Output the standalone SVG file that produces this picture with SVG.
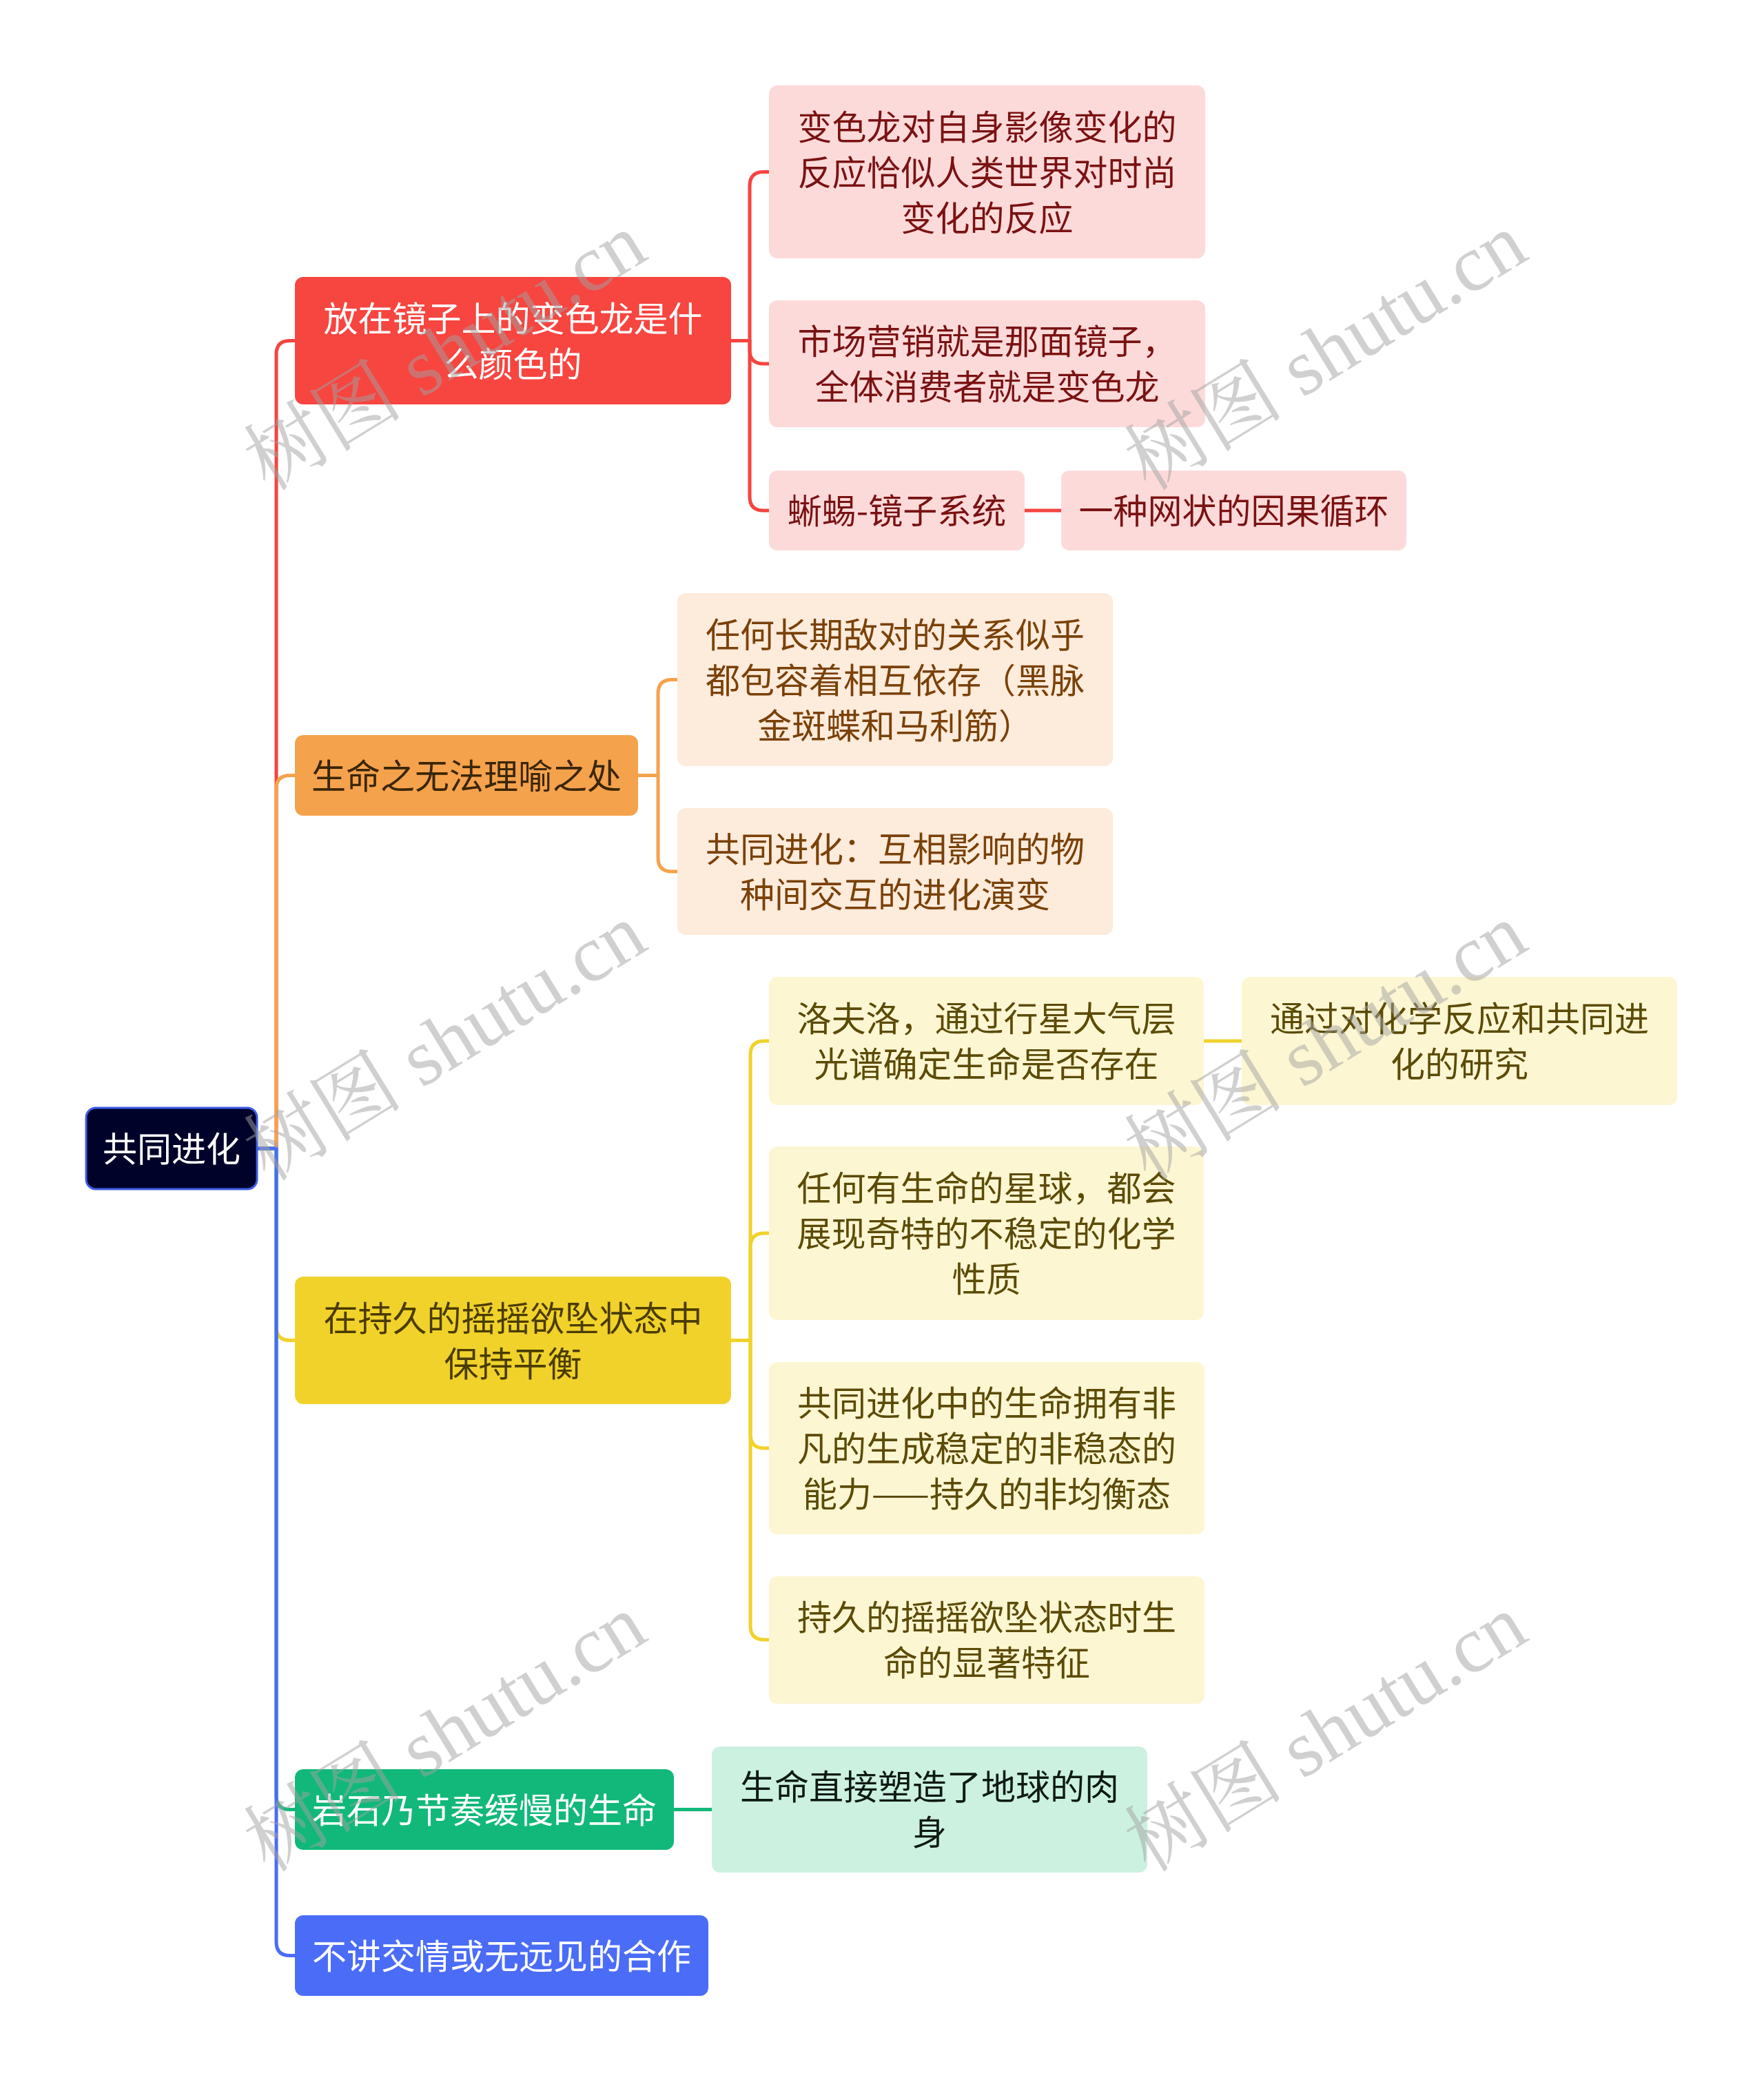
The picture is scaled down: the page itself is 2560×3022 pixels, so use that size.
<svg xmlns="http://www.w3.org/2000/svg" width="2560" height="3022" viewBox="0 0 2560 3022">
<style>
text{font-family:"Noto Sans CJK SC","Noto Sans",sans-serif;font-size:50px;text-anchor:middle}
.wm{font-family:"Liberation Serif","Noto Serif CJK SC","Noto Sans CJK SC",serif;font-size:116px;fill:#a2a2a2;fill-opacity:0.5;dominant-baseline:central}
.c{fill:none;stroke-width:5;stroke-linejoin:round}
.w{fill:#ffffff}
</style>
<rect width="2560" height="3022" fill="#ffffff"/>
<g id="connectors">
<path class="c" stroke="#F5443F" d="M374 1667 H401 V514 Q401 494.5 421 494.5 H430"/>
<path class="c" stroke="#F5A24C" d="M374 1667 H401 V1145 Q401 1125.5 421 1125.5 H430"/>
<path class="c" stroke="#F0D22A" d="M374 1667 H401 V1926 Q401 1945.5 421 1945.5 H430"/>
<path class="c" stroke="#11B87A" d="M374 1667 H401 V2607 Q401 2626.5 421 2626.5 H430"/>
<path class="c" stroke="#4A6CF7" d="M374 1667 H401 V2819 Q401 2838.5 421 2838.5 H430"/>
<path class="c" stroke="#F5443F" d="M1061 494.5 H1088 V270 Q1088 249.5 1108 249.5 H1118"/>
<path class="c" stroke="#F5443F" d="M1061 494.5 H1088 V508 Q1088 528 1108 528 H1118"/>
<path class="c" stroke="#F5443F" d="M1061 494.5 H1088 V721 Q1088 741 1108 741 H1118"/>
<path class="c" stroke="#F5443F" d="M1487 741 H1541"/>
<path class="c" stroke="#F5A24C" d="M926 1125.5 H955 V1007 Q955 986.5 975 986.5 H985"/>
<path class="c" stroke="#F5A24C" d="M926 1125.5 H955 V1245 Q955 1265 975 1265 H985"/>
<path class="c" stroke="#F0D22A" d="M1061 1945.5 H1089 V1531 Q1089 1511 1109 1511 H1118"/>
<path class="c" stroke="#F0D22A" d="M1061 1945.5 H1089 V1810 Q1089 1790 1109 1790 H1118"/>
<path class="c" stroke="#F0D22A" d="M1061 1945.5 H1089 V2082 Q1089 2102 1109 2102 H1118"/>
<path class="c" stroke="#F0D22A" d="M1061 1945.5 H1089 V2360 Q1089 2380 1109 2380 H1118"/>
<path class="c" stroke="#F0D22A" d="M1747 1511 H1803"/>
<path class="c" stroke="#11B87A" d="M978 2626.5 H1033"/>
</g>
<g id="root">
<rect x="125" y="1608" width="248" height="118" rx="14" fill="#01022A" stroke="#3D5EE8" stroke-width="3"/>
<text class="w" x="249" y="1686">共同进化</text>
</g>
<g id="n1">
<rect x="428" y="402" width="633" height="185" rx="12" fill="#F74540"/>
<text class="w" x="744.5" y="480.5">放在镜子上的变色龙是什</text>
<text class="w" x="744.5" y="546.5">么颜色的</text>
</g>
<g id="n1a" fill="#7A1212">
<rect x="1116" y="124" width="633" height="251" rx="12" fill="#FDDADA"/>
<text x="1432.5" y="202.5">变色龙对自身影像变化的</text>
<text x="1432.5" y="268.5">反应恰似人类世界对时尚</text>
<text x="1432.5" y="334.5">变化的反应</text>
</g>
<g id="n1b" fill="#7A1212">
<rect x="1116" y="436" width="633" height="184" rx="12" fill="#FDDADA"/>
<text x="1432.5" y="514">市场营销就是那面镜子，</text>
<text x="1432.5" y="580">全体消费者就是变色龙</text>
</g>
<g id="n1c" fill="#7A1212">
<rect x="1116" y="683" width="371" height="116" rx="12" fill="#FDDADA"/>
<text x="1301.5" y="760">蜥蜴-镜子系统</text>
</g>
<g id="n1d" fill="#7A1212">
<rect x="1540" y="683" width="501" height="116" rx="12" fill="#FDDADA"/>
<text x="1790.5" y="760">一种网状的因果循环</text>
</g>
<g id="n2">
<rect x="428" y="1067" width="498" height="117" rx="12" fill="#F5A24C"/>
<text x="677" y="1144.5" fill="#3A2608">生命之无法理喻之处</text>
</g>
<g id="n2a" fill="#7A4108">
<rect x="983" y="861" width="632" height="251" rx="12" fill="#FDEBDB"/>
<text x="1299" y="939.5">任何长期敌对的关系似乎</text>
<text x="1299" y="1005.5">都包容着相互依存（黑脉</text>
<text x="1299" y="1071.5">金斑蝶和马利筋）</text>
</g>
<g id="n2b" fill="#7A4108">
<rect x="983" y="1173" width="632" height="184" rx="12" fill="#FDEBDB"/>
<text x="1299" y="1251">共同进化：互相影响的物</text>
<text x="1299" y="1317">种间交互的进化演变</text>
</g>
<g id="n3">
<rect x="428" y="1853" width="633" height="185" rx="12" fill="#F0D22A"/>
<text x="744.5" y="1931.5" fill="#4A3C00">在持久的摇摇欲坠状态中</text>
<text x="744.5" y="1997.5" fill="#4A3C00">保持平衡</text>
</g>
<g id="n3a" fill="#5C4B06">
<rect x="1116" y="1418" width="631" height="186" rx="12" fill="#FCF6D3"/>
<text x="1431.5" y="1497">洛夫洛，通过行星大气层</text>
<text x="1431.5" y="1563">光谱确定生命是否存在</text>
</g>
<g id="n3a1" fill="#5C4B06">
<rect x="1802" y="1418" width="632" height="186" rx="12" fill="#FCF6D3"/>
<text x="2118" y="1497">通过对化学反应和共同进</text>
<text x="2118" y="1563">化的研究</text>
</g>
<g id="n3b" fill="#5C4B06">
<rect x="1116" y="1664" width="631" height="252" rx="12" fill="#FCF6D3"/>
<text x="1431.5" y="1743">任何有生命的星球，都会</text>
<text x="1431.5" y="1809">展现奇特的不稳定的化学</text>
<text x="1431.5" y="1875">性质</text>
</g>
<g id="n3c" fill="#5C4B06">
<rect x="1116" y="1977" width="632" height="250" rx="12" fill="#FCF6D3"/>
<text x="1432" y="2055">共同进化中的生命拥有非</text>
<text x="1432" y="2121">凡的生成稳定的非稳态的</text>
<text x="1432" y="2187">能力——持久的非均衡态</text>
</g>
<g id="n3d" fill="#5C4B06">
<rect x="1116" y="2288" width="632" height="185" rx="12" fill="#FCF6D3"/>
<text x="1432" y="2366">持久的摇摇欲坠状态时生</text>
<text x="1432" y="2432">命的显著特征</text>
</g>
<g id="n4">
<rect x="428" y="2568" width="550" height="117" rx="12" fill="#11B87A"/>
<text class="w" x="703" y="2645.5">岩石乃节奏缓慢的生命</text>
</g>
<g id="n4a" fill="#0E1A14">
<rect x="1033" y="2535" width="632" height="183" rx="12" fill="#CCF1E1"/>
<text x="1349" y="2612">生命直接塑造了地球的肉</text>
<text x="1349" y="2678">身</text>
</g>
<g id="n5">
<rect x="428" y="2780" width="600" height="117" rx="12" fill="#4A6CF7"/>
<text class="w" x="728" y="2857.5">不讲交情或无远见的合作</text>
</g>
<g id="watermarks">
<text class="wm" transform="translate(646 511) rotate(-31.5)">树图 shutu.cn</text>
<text class="wm" transform="translate(1924 511) rotate(-31.5)">树图 shutu.cn</text>
<text class="wm" transform="translate(646 1513) rotate(-31.5)">树图 shutu.cn</text>
<text class="wm" transform="translate(1924 1513) rotate(-31.5)">树图 shutu.cn</text>
<text class="wm" transform="translate(646 2516) rotate(-31.5)">树图 shutu.cn</text>
<text class="wm" transform="translate(1924 2516) rotate(-31.5)">树图 shutu.cn</text>
</g>
</svg>
